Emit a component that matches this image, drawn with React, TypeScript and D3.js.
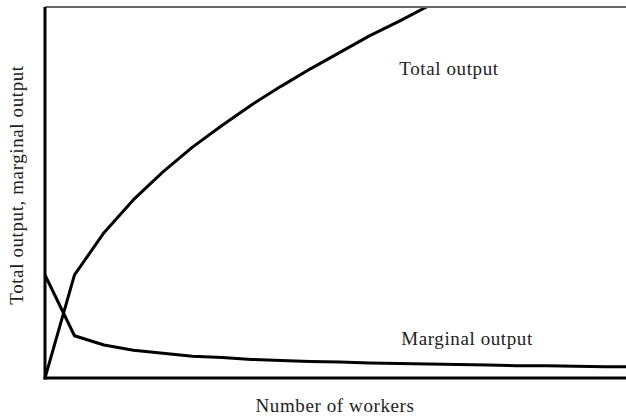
import React from "react";
import * as d3 from "d3";

const workers = [0, 1, 2, 3, 4, 5, 6, 7, 8, 9, 10, 11, 12, 13, 14, 15, 16, 17, 18, 19, 20];
const totalOutput = [0, 10, 14.1, 17.3, 20, 22.4, 24.5, 26.5, 28.3, 30, 31.6, 33.2, 34.6, 36.1, 37.4, 38.7, 40, 41.2, 42.4, 43.6, 44.7];
const marginalOutput = [10, 4.1, 3.2, 2.7, 2.4, 2.1, 2.0, 1.8, 1.7, 1.6, 1.55, 1.45, 1.4, 1.35, 1.3, 1.25, 1.2, 1.2, 1.15, 1.1, 1.1];
const labels = { total: "Total output", marginal: "Marginal output", x: "Number of workers", y: "Total output, marginal output" };

const W = 626, H = 419;
const left = 45, right = 626, top = 7, bottom = 378;

export default function App() {
  const x = d3.scaleLinear().domain([0, 19.7]).range([left, right]);
  const y = d3.scaleLinear().domain([0, 36]).range([bottom, top]);
  const line = d3.line<number>().x((_, i) => x(workers[i])).y((d) => y(d));
  const font = "'Liberation Serif', 'DejaVu Serif', serif";
  return (
    <svg width={W} height={H} style={{ position: "absolute", left: 0, top: 0, background: "#fff" }}>
      <defs>
        <clipPath id="plot">
          <rect x={left} y={top} width={right - left} height={bottom - top} />
        </clipPath>
      </defs>
      <g clipPath="url(#plot)" fill="none" stroke="#000" strokeWidth={3} strokeLinejoin="round">
        <path d={line(totalOutput) || ""} />
        <path d={line(marginalOutput) || ""} />
      </g>
      <line x1={left} x2={W} y1={top} y2={top} stroke="#666" strokeWidth={2} />
      <line x1={left} x2={left} y1={top} y2={bottom + 1.5} stroke="#000" strokeWidth={3} />
      <line x1={left - 1.5} x2={W} y1={bottom} y2={bottom} stroke="#000" strokeWidth={3} />
      <g fontFamily={font} fontSize={19} fill="#222" letterSpacing={0.6}>
        <text x={449} y={75} textAnchor="middle">{labels.total}</text>
        <text x={467} y={345} textAnchor="middle">{labels.marginal}</text>
        <text x={335} y={412} textAnchor="middle">{labels.x}</text>
        <text transform="translate(23,185) rotate(-90)" textAnchor="middle">{labels.y}</text>
      </g>
    </svg>
  );
}
